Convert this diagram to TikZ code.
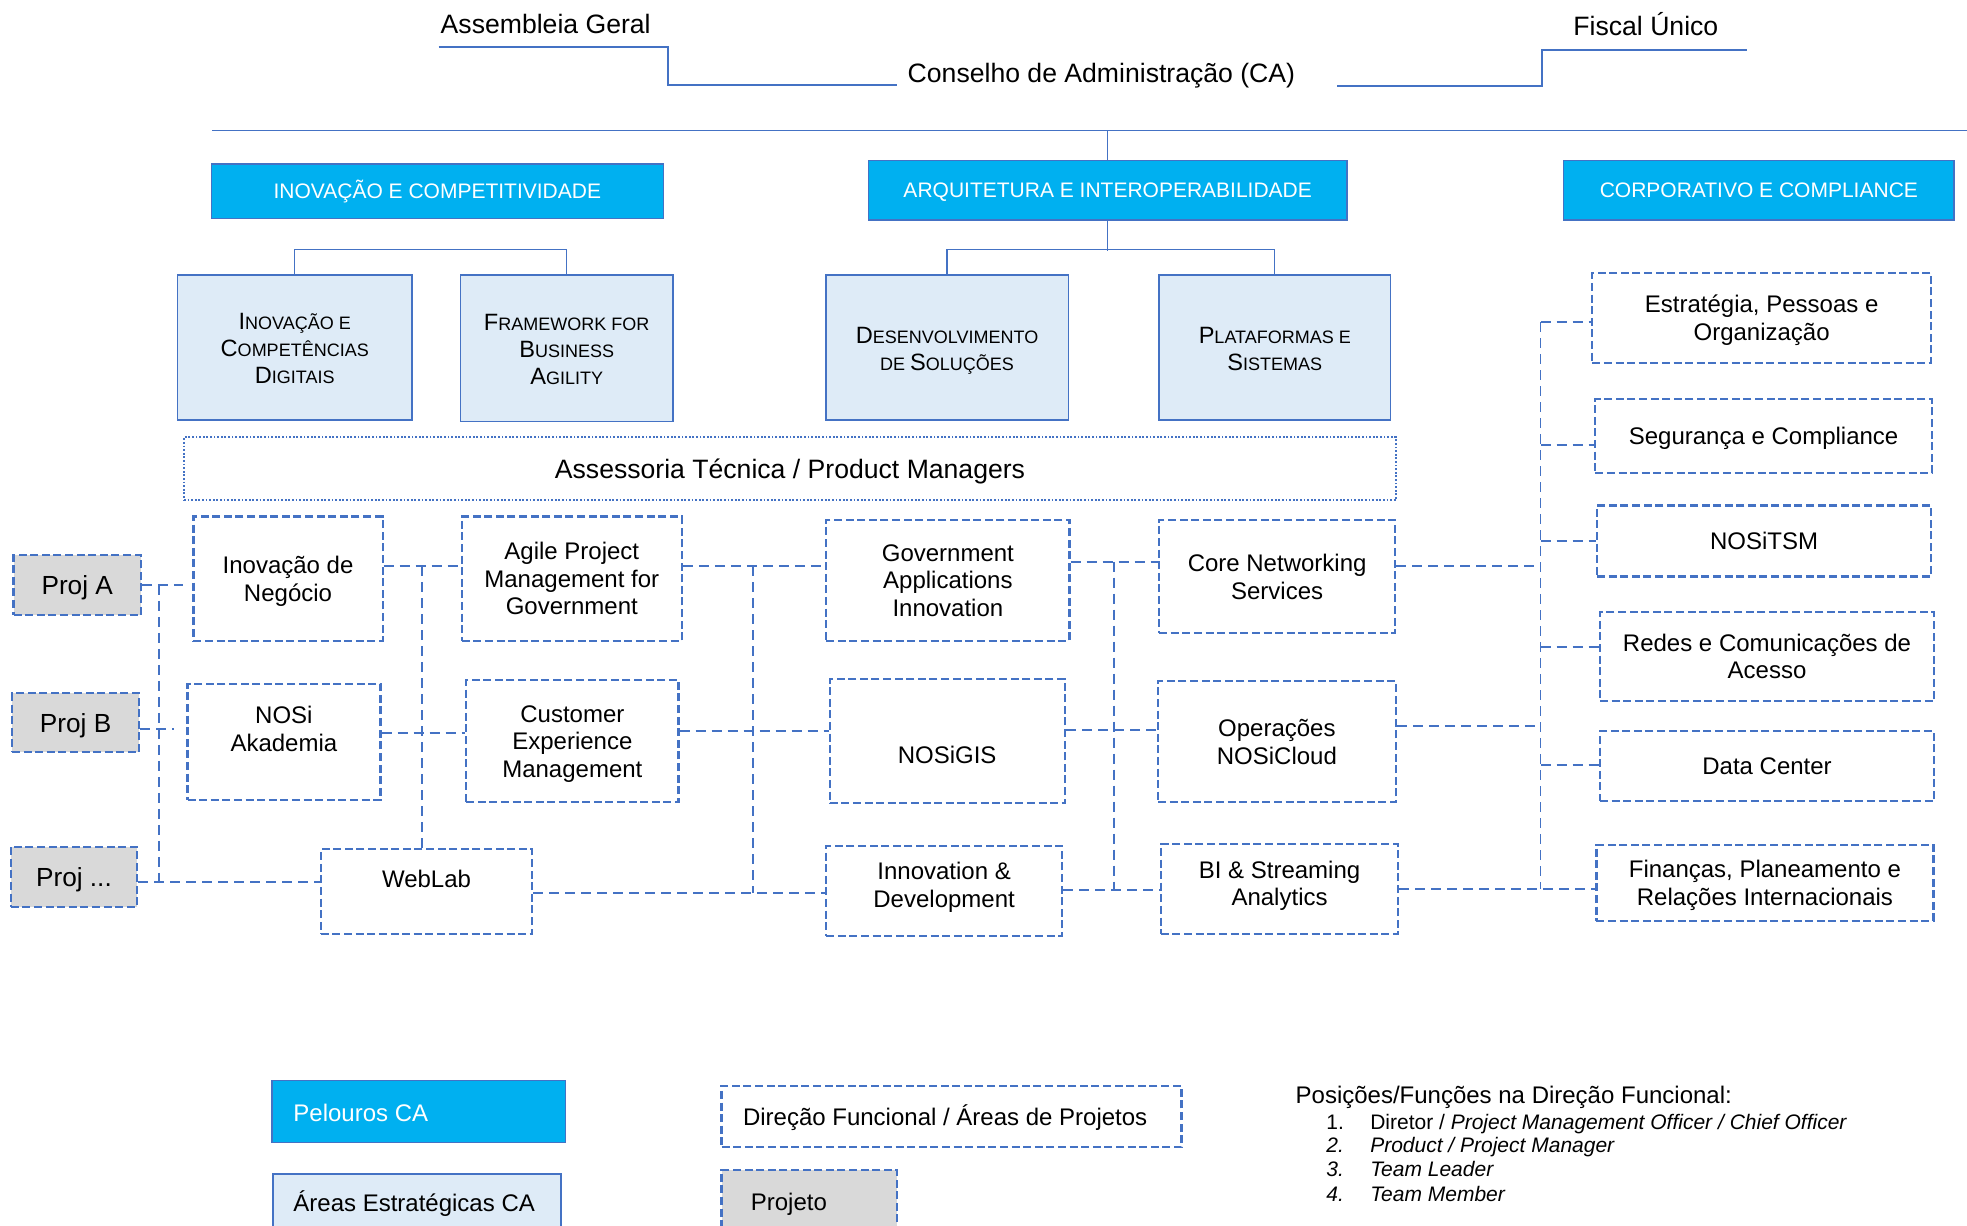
\documentclass[tikz,border=0pt]{standalone}
\usepackage{fontspec}
\setmainfont{Liberation Sans}
\definecolor{lineblue}{HTML}{4472C4}
\definecolor{hdrblue}{HTML}{00B0F0}
\definecolor{areablue}{HTML}{DEEBF7}
\definecolor{projgray}{HTML}{D9D9D9}
\newcommand{\scbig}[1]{{\fontsize{11.8}{13.5}\selectfont #1}}
\newcommand{\topst}{\rule{0pt}{0.93em}}
\newcommand{\botst}{\rule[-0.21em]{0pt}{0pt}}
\newcommand{\areast}{\rule{0pt}{11pt}}
\begin{document}
\begin{tikzpicture}[x=0.6272pt,y=-0.6272pt,
  every node/.style={inner sep=0pt,execute at begin node=\topst,execute at end node=\botst},
  boxr/.style n args={4}{minimum width={(#3-#1)*0.6272pt},minimum height={(#4-#2)*0.6272pt},at={({(#1+#3)/2},{(#2+#4)/2})}},
  hdr/.style={fill=hdrblue,draw=lineblue,line width=0.6pt,text=white,font=\fontsize{10.5}{12.5}\selectfont},
  area/.style={fill=areablue,draw=lineblue,line width=0.8pt,align=center,font=\fontsize{9}{13.5}\selectfont},
  dbox/.style={draw=lineblue,line width=1.1pt,dash pattern=on 4pt off 1.8pt,align=center,font=\fontsize{12}{13.8}\selectfont},
  pbox/.style={dbox,fill=projgray,font=\fontsize{13.1}{15}\selectfont},
  dotbox/.style={draw=lineblue,line width=1pt,dash pattern=on 0.9pt off 0.9pt,font=\fontsize{13.3}{15.5}\selectfont},
  txt/.style={align=center,font=\fontsize{12}{13.8}\selectfont},
  toptxt/.style={font=\fontsize{13.3}{15.5}\selectfont},
  legtxt/.style={anchor=base west,font=\fontsize{12}{14}\selectfont},
  listtxt/.style={anchor=base west,font=\fontsize{10.5}{12}\selectfont},
  solidline/.style={draw=lineblue,line width=0.8pt},
  thinline/.style={draw=lineblue,line width=0.6pt},
  conn/.style={draw=lineblue,line width=0.9pt,dash pattern=on 5pt off 3pt},
]
\useasboundingbox (0,0) rectangle (1568,977);
\clip (0,0) rectangle (1568,977);

% ---------- top governance ----------
\node[toptxt,anchor=base west] (ag) at (351,27) {Assembleia Geral};
\node[toptxt,anchor=base] (ca) at (878,66) {Conselho de Administração (CA)};
\node[toptxt,anchor=base] (fu) at (1312,28.5) {Fiscal Único};
\coordinate (agL) at (349.6,37.5);
\coordinate (agK) at (532.5,67.8);
\coordinate (caL) at (715.4,67.8);
\draw[solidline] (agL) -| (agK) -- (caL);
\coordinate (caR) at (1066,68.6);
\coordinate (fuK) at (1229,68.6);
\coordinate (fuR) at (1392.4,39.9);
\draw[solidline] (caR) -- (fuK) |- (fuR);
\coordinate (busL) at (169,104);
\coordinate (busR) at (1568,104);
\draw[solidline] (busL) -- (busR);

% ---------- pelouros ----------
\node[hdr,boxr={168.5}{130.7}{528.7}{174.3}] (hic) {INOVAÇÃO E COMPETITIVIDADE};
\node[hdr,boxr={692.3}{128}{1073.7}{175.4}] (arq) {ARQUITETURA E INTEROPERABILIDADE};
\node[hdr,boxr={1246.5}{128}{1557.6}{175.4}] (corp) {CORPORATIVO E COMPLIANCE};
\draw[thinline] (busL -| arq.north) -- (arq.north);

% ---------- areas estrategicas ----------
\node[area,boxr={141.5}{219.2}{328.4}{334.8}] (icd) {\areast\scbig{I}NOVAÇÃO E\\\scbig{C}OMPETÊNCIAS\\\scbig{D}IGITAIS};
\node[area,boxr={367.2}{219.2}{536.3}{336.1}] (fba) {\areast\scbig{F}RAMEWORK FOR\\\scbig{B}USINESS\\\scbig{A}GILITY};
\node[area,boxr={658.3}{219.2}{851.6}{334.8}] (dso) {\areast\scbig{D}ESENVOLVIMENTO\\DE \scbig{S}OLUÇÕES};
\node[area,boxr={924}{219.2}{1108.4}{334.8}] (pls) {\areast\scbig{P}LATAFORMAS E\\\scbig{S}ISTEMAS};
\draw[thinline] (icd.north) -- ++(0,-19.4) -| (fba.north);
\draw[thinline] (dso.north) -- ++(0,-19.4) -| (pls.north);
\draw[thinline] (arq.south) -- ++(0,24.4);

% ---------- assessoria ----------
\node[dotbox,boxr={146.7}{348.6}{1112.8}{398.6}] (atpm) {Assessoria Técnica / Product Managers};

% ---------- direcoes funcionais ----------
\node[dbox,boxr={154.2}{411.8}{305}{510.7}] (inn) {\topst Inovação de\\Negócio};
\node[dbox,boxr={368.1}{411.8}{543.5}{510.7}] (apm) {\topst Agile Project\\Management for\\Government};
\node[dbox,boxr={658.6}{414.5}{852.6}{510.7}] (gai) {\topst Government\\Applications\\Innovation};
\node[dbox,boxr={924}{414.5}{1112.1}{504.8}] (cns) {\topst Core Networking\\Services};

\node[dbox,boxr={149.5}{545.2}{303.3}{637.7}] (nak) {};
\node[txt] (nakt) at (226.3,581) {\topst NOSi\\Akademia};
\node[dbox,boxr={371.6}{542}{540.9}{639.5}] (cxm) {\topst Customer\\Experience\\Management};
\node[dbox,boxr={661.4}{541.3}{849}{640.4}] (gis) {};
\node[txt] (gist) at (755,601.5) {NOSiGIS};
\node[dbox,boxr={923.1}{542.8}{1112.6}{639.5}] (opc) {\topst Operações\\NOSiCloud};

\node[dbox,boxr={255.8}{677}{424.3}{744.5}] (wl) {};
\node[txt] (wlt) at (340,700.7) {WebLab};
\node[dbox,boxr={658.6}{674.4}{846.7}{746.1}] (ind) {};
\node[txt] (indt) at (752.6,705.5) {\topst Innovation \&\\Development};
\node[dbox,boxr={925.4}{672.8}{1114.4}{744.8}] (bis) {};
\node[txt] (bist) at (1020,704.1) {\topst BI \& Streaming\\Analytics};

% ---------- projetos ----------
\node[pbox,boxr={10.8}{442.4}{112.3}{490.2}] (pa) {Proj A};
\node[pbox,boxr={9.5}{552.7}{111}{599.7}] (pb) {Proj B};
\node[pbox,boxr={8.6}{674.9}{109.3}{722.7}] (pd) {Proj ...};

% ---------- corporativo ----------
\node[dbox,boxr={1269.3}{217.6}{1539.3}{289.2}] (epo) {\topst Estratégia, Pessoas e\\Organização};
\node[dbox,boxr={1271.7}{317.9}{1540}{377.3}] (sgc) {Segurança e Compliance};
\node[dbox,boxr={1273.1}{402.9}{1539.3}{459.6}] (tsm) {NOSiTSM};
\node[dbox,boxr={1275.5}{487.9}{1541.7}{558.8}] (rca) {\topst Redes e Comunicações de\\Acesso};
\node[dbox,boxr={1275.5}{583}{1541.7}{638.7}] (dce) {Data Center};
\node[dbox,boxr={1272.6}{673.3}{1541.2}{734}] (fpr) {\topst Finanças, Planeamento e\\Relações Internacionais};

% ---------- connector levels ----------
\coordinate (yA) at (0,451.2);
\coordinate (yB) at (0,584.6);
\coordinate (yC) at (0,582.5);
\coordinate (yD) at (0,711.6);
\coordinate (yE) at (0,447.7);
\coordinate (yF) at (0,582);
\coordinate (yG) at (0,709.5);
\coordinate (yH) at (0,578.5);
\coordinate (yI) at (0,708.6);
\coordinate (yPB) at (0,581);
\coordinate (yPD) at (0,702.8);

% left bus (projects)
\coordinate (lbT) at (126.6,466.3);
\coordinate (lbB) at (126.6,702.8);
\draw[conn] (lbT) -- (lbB);
\draw[conn] (pa.east) -- +(33,0);
\draw[conn] (pb.east |- yPB) -- +(27,0);
\draw[conn] (pd.east |- yPD) -- (wl.west |- yPD);

% column 1 - 2
\coordinate (v1) at (336.1,451.2);
\draw[conn] (inn.east |- yA) -- (apm.west |- yA);
\draw[conn] (v1) -- (v1 |- wl.north);
\draw[conn] (nak.east |- yB) -- (cxm.west |- yB);

% column 2 - 3
\coordinate (v2T) at (600.4,451.2);
\coordinate (v2B) at (600.4,711.6);
\draw[conn] (apm.east |- yA) -- (gai.west |- yA);
\draw[conn] (v2T) -- (v2B);
\draw[conn] (cxm.east |- yC) -- (gis.west |- yC);
\draw[conn] (wl.east |- yD) -- (ind.west |- yD);

% column 3 - 4
\coordinate (v3T) at (887.8,447.7);
\coordinate (v3B) at (887.8,709.5);
\draw[conn] (gai.east |- yE) -- (cns.west |- yE);
\draw[conn] (v3T) -- (v3B);
\draw[conn] (gis.east |- yF) -- (opc.west |- yF);
\draw[conn] (ind.east |- yG) -- (bis.west |- yG);

% column 4 - corporativo
\coordinate (rbT) at (1228,256.7);
\coordinate (rbB) at (1228,708.6);
\draw[conn] (rbT) -- (rbB);
\draw[conn] (cns.east |- yA) -- (rbT |- yA);
\draw[conn] (opc.east |- yH) -- (rbT |- yH);
\draw[conn] (bis.east |- yI) -- (fpr.west |- yI);
\draw[conn] (rbT) -- (epo.west |- rbT);
\coordinate (ySg) at (0,354.5);
\coordinate (yTs) at (0,431.3);
\coordinate (yRc) at (0,516);
\coordinate (yDc) at (0,610);
\draw[conn] (rbT |- ySg) -- (sgc.west |- ySg);
\draw[conn] (rbT |- yTs) -- (tsm.west |- yTs);
\draw[conn] (rbT |- yRc) -- (rca.west |- yRc);
\draw[conn] (rbT |- yDc) -- (dce.west |- yDc);

% ---------- legend ----------
\node[hdr,boxr={216.8}{861.5}{451}{910.6}] (lg1) {};
\node[legtxt,text=white] (lg1t) at (233.6,894.3) {Pelouros CA};
\node[area,boxr={217.6}{936}{447.2}{1010}] (lg2) {};
\node[legtxt] (lg2t) at (233.6,965.5) {Áreas Estratégicas CA};
\node[dbox,boxr={575.2}{865.7}{941.8}{914.6}] (lg3) {};
\node[legtxt] (lg3t) at (592,897.5) {Direção Funcional / Áreas de Projetos};
\node[pbox,boxr={575.2}{932.6}{715.3}{1010}] (lg4) {};
\node[legtxt] (lg4t) at (598.2,964.7) {Projeto};

\node[legtxt] (pos) at (1032.5,879.7) {Posições/Funções na Direção Funcional:};
\node[listtxt] (n1) at (1057,900.1) {1.};
\node[listtxt] (t1) at (1092,900.1) {Diretor / \textit{Project Management Officer / Chief Officer}};
\node[listtxt] (n2) at (1057,918.7) {\textit{2.}};
\node[listtxt] (t2) at (1092,918.7) {\textit{Product / Project Manager}};
\node[listtxt] (n3) at (1057,937.9) {\textit{3.}};
\node[listtxt] (t3) at (1092,937.9) {\textit{Team Leader}};
\node[listtxt] (n4) at (1057,957.8) {\textit{4.}};
\node[listtxt] (t4) at (1092,957.8) {\textit{Team Member}};
\end{tikzpicture}
\end{document}
